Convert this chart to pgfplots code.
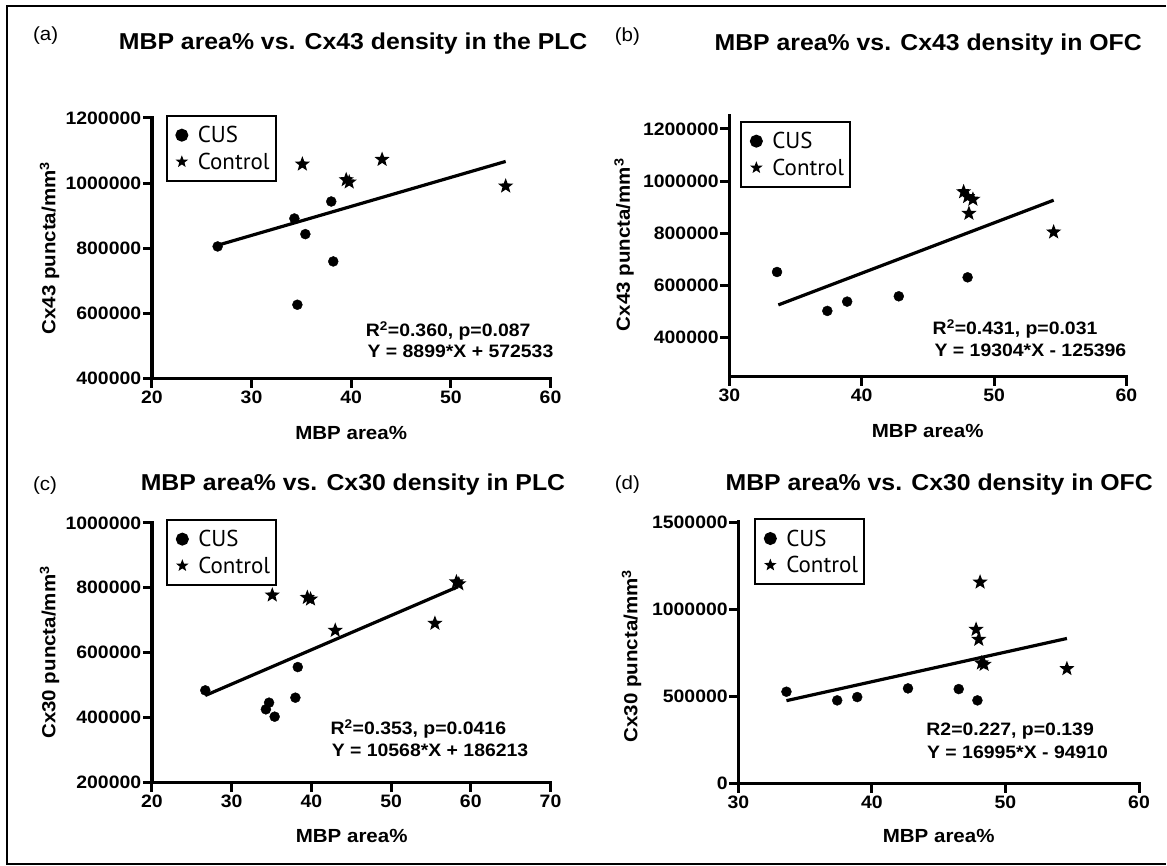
\documentclass[border=0pt]{standalone}
\usepackage{fontspec}
\setmainfont{Liberation Sans}[FakeStretch=1.08]
\newfontfamily\legfont{PT Sans}
\usepackage{pgfplots}
\pgfplotsset{compat=1.18}

% filled five-pointed star
\pgfdeclareplotmark{fstar}{%
  \pgfpathmoveto{\pgfpointpolar{90}{\pgfplotmarksize}}%
  \pgfpathlineto{\pgfpointpolar{126}{0.42\pgfplotmarksize}}%
  \pgfpathlineto{\pgfpointpolar{162}{\pgfplotmarksize}}%
  \pgfpathlineto{\pgfpointpolar{198}{0.42\pgfplotmarksize}}%
  \pgfpathlineto{\pgfpointpolar{234}{\pgfplotmarksize}}%
  \pgfpathlineto{\pgfpointpolar{270}{0.42\pgfplotmarksize}}%
  \pgfpathlineto{\pgfpointpolar{306}{\pgfplotmarksize}}%
  \pgfpathlineto{\pgfpointpolar{342}{0.42\pgfplotmarksize}}%
  \pgfpathlineto{\pgfpointpolar{18}{\pgfplotmarksize}}%
  \pgfpathlineto{\pgfpointpolar{54}{0.42\pgfplotmarksize}}%
  \pgfpathclose
  \pgfusepathqfill
}

\pgfplotsset{
  panel/.style={
    scale only axis,
    anchor=south west,
    axis lines*=left,
    axis line style={-, line width=3.5pt, line cap=rect},
    every tick/.style={black, line width=3pt},
    major tick length=9pt,
    tick align=outside,
    ticklabel style={font=\fontsize{18}{20}\selectfont\bfseries},
    yticklabel style={inner xsep=1.5pt},
    /pgf/number format/assume math mode=true,
    scaled y ticks=false,
    yticklabel style={/pgf/number format/fixed, /pgf/number format/1000 sep={}},
    clip=false,
    legend style={at={(axis description cs:0,1)}, anchor=north west,
      draw=black, line width=2pt,
      font=\legfont\fontsize{23}{25}\selectfont,
      inner xsep=6pt, inner ysep=6pt, row sep=0pt, column sep=0pt,
      nodes={inner sep=0pt, text height=21pt, text depth=5.6pt}},
    legend cell align=left,
    legend image code/.code={%
      \path (0pt,0pt) (23pt,0pt);
      \draw[##1] plot coordinates {(8pt,0pt)};},
  },
  cus/.style={only marks, mark=*, mark size=5pt, black, forget plot},
  ctl/.style={only marks, mark=fstar, mark size=8pt, black, forget plot},
  fit/.style={black, line width=3.2pt, no marks, forget plot},
}

\newcommand{\legendCUS}{%
  \addlegendimage{only marks, mark=*, mark size=5.5pt, black}
  \addlegendentry{CUS}
  \addlegendimage{only marks, mark=fstar, mark size=6.5pt, black}
  \addlegendentry{Control}}

\newcommand{\tfont}{\fontsize{23}{26}\selectfont\bfseries}
\newcommand{\lfont}{\fontsize{19}{22}\selectfont\bfseries}
\newcommand{\afont}{\fontsize{18}{20}\selectfont\bfseries}
\newcommand{\pfont}{\fontsize{19}{22}\selectfont}

\begin{document}
\begin{tikzpicture}[x=1pt, y=1pt]
\path (0,0) rectangle (1167,866);
\draw[line width=2pt] (1167,860) -- (7.4,860) -- (7.4,1) -- (1167,1);

% (a)
\begin{axis}[panel, at={(152pt,487pt)}, width=399pt, height=261pt,
  xmin=20, xmax=60, ymin=400000, ymax=1200000,
  xtick={20,30,40,50,60}, ytick={400000,600000,800000,1000000,1200000},
  legend style={xshift=14pt, yshift=3pt}]
\addplot[cus] coordinates {(26.6,805600) (34.3,891400) (35.4,843400) (38.0,943500) (38.2,759600) (34.6,626800)};
\addplot[ctl] coordinates {(35.1,1058000) (39.5,1010000) (39.8,1003000) (43.1,1072300) (55.5,990600)};
\addplot[fit] coordinates {(26.6,809247) (55.5,1066428)};
\legendCUS
\end{axis}

% (b)
\begin{axis}[panel, at={(730pt,489pt)}, width=397.4pt, height=261pt,
  xmin=30, xmax=60, ymin=250000, ymax=1250000,
  xtick={30,40,50,60}, ytick={400000,600000,800000,1000000,1200000},
  legend style={xshift=11pt, yshift=-5pt}]
\addplot[cus] coordinates {(33.6,651400) (37.4,502100) (38.9,537800) (42.8,558200) (48.0,630900)};
\addplot[ctl] coordinates {(47.7,958800) (48.0,940000) (48.4,930000) (48.1,875900) (54.5,804400)};
\addplot[fit] coordinates {(33.7,525149) (54.5,926672)};
\legendCUS
\end{axis}

% (c)
\begin{axis}[panel, at={(152pt,82.7pt)}, width=399pt, height=260pt,
  xmin=20, xmax=70, ymin=200000, ymax=1000000,
  xtick={20,30,40,50,60,70}, ytick={200000,400000,600000,800000,1000000},
  legend style={xshift=14.5pt, yshift=4pt}]
\addplot[cus] coordinates {(26.7,484100) (34.7,446200) (34.3,425700) (35.4,403100) (38.3,555900) (38.0,461600)};
\addplot[ctl] coordinates {(35.1,777400) (39.5,770000) (39.9,765000) (43.0,668700) (55.5,690300) (58.2,818000) (58.5,812000)};
\addplot[fit] coordinates {(26.7,468379) (58.4,803384)};
\legendCUS
\end{axis}

% (d)
\begin{axis}[panel, at={(739pt,81.7pt)}, width=401pt, height=261.6pt,
  xmin=30, xmax=60, ymin=0, ymax=1500000,
  xtick={30,40,50,60}, ytick={0,500000,1000000,1500000},
  legend style={xshift=16pt, yshift=4pt}]
\addplot[cus] coordinates {(33.6,527400) (37.4,477700) (38.9,496800) (42.7,546500) (46.5,542700) (47.9,477700)};
\addplot[ctl] coordinates {(48.1,1156000) (47.8,884700) (48.0,827400) (48.2,692000) (48.4,684000) (54.6,659200)};
\addplot[fit] coordinates {(33.6,476122) (54.6,833017)};
\legendCUS
\end{axis}

% panel labels and titles
\node[anchor=base west, font=\pfont] at (29.6,825.3) {(a)};
\node[anchor=base west, font=\pfont] at (611.8,824.3) {(b)};
\node[anchor=base west, font=\pfont] at (29.6,375.3) {(c)};
\node[anchor=base west, font=\pfont] at (611.8,376) {(d)};
\node[anchor=base, font=\tfont] at (353.5,816) {MBP area\% vs. Cx43 density in the PLC};
\node[anchor=base, font=\tfont] at (929,815.3) {MBP area\% vs. Cx43 density in OFC};
\node[anchor=base, font=\tfont] at (353.3,375.3) {MBP area\% vs. Cx30 density in PLC};
\node[anchor=base, font=\tfont] at (940,375.3) {MBP area\% vs. Cx30 density in OFC};

% axis labels
\node[anchor=base, font=\lfont] at (351.5,426) {MBP area\%};
\node[anchor=base, font=\lfont] at (928.5,428) {MBP area\%};
\node[anchor=base, font=\lfont] at (352,23) {MBP area\%};
\node[anchor=base, font=\lfont] at (939.5,23) {MBP area\%};
\node[anchor=base, rotate=90, font=\lfont] at (55.5,617.5) {Cx43 puncta/mm\textsuperscript{3}};
\node[anchor=base, rotate=90, font=\lfont] at (630.5,621) {Cx43 puncta/mm\textsuperscript{3}};
\node[anchor=base, rotate=90, font=\lfont] at (55.5,213) {Cx30 puncta/mm\textsuperscript{3}};
\node[anchor=base, rotate=90, font=\lfont] at (638,209.3) {Cx30 puncta/mm\textsuperscript{3}};

% fit annotations
\node[anchor=base west, font=\afont] at (362.6,529) {R\textsuperscript{2}=0.360, p=0.087};
\node[anchor=base west, font=\afont] at (364.4,508) {Y = 8899*X + 572533};
\node[anchor=base west, font=\afont] at (930,531) {R\textsuperscript{2}=0.431, p=0.031};
\node[anchor=base west, font=\afont] at (931.9,509) {Y = 19304*X - 125396};
\node[anchor=base west, font=\afont] at (327.4,131) {R\textsuperscript{2}=0.353, p=0.0416};
\node[anchor=base west, font=\afont] at (328.5,109.3) {Y = 10568*X + 186213};
\node[anchor=base west, font=\afont] at (923.7,130) {R2=0.227, p=0.139};
\node[anchor=base west, font=\afont] at (924.4,107) {Y = 16995*X - 94910};
\end{tikzpicture}
\end{document}
